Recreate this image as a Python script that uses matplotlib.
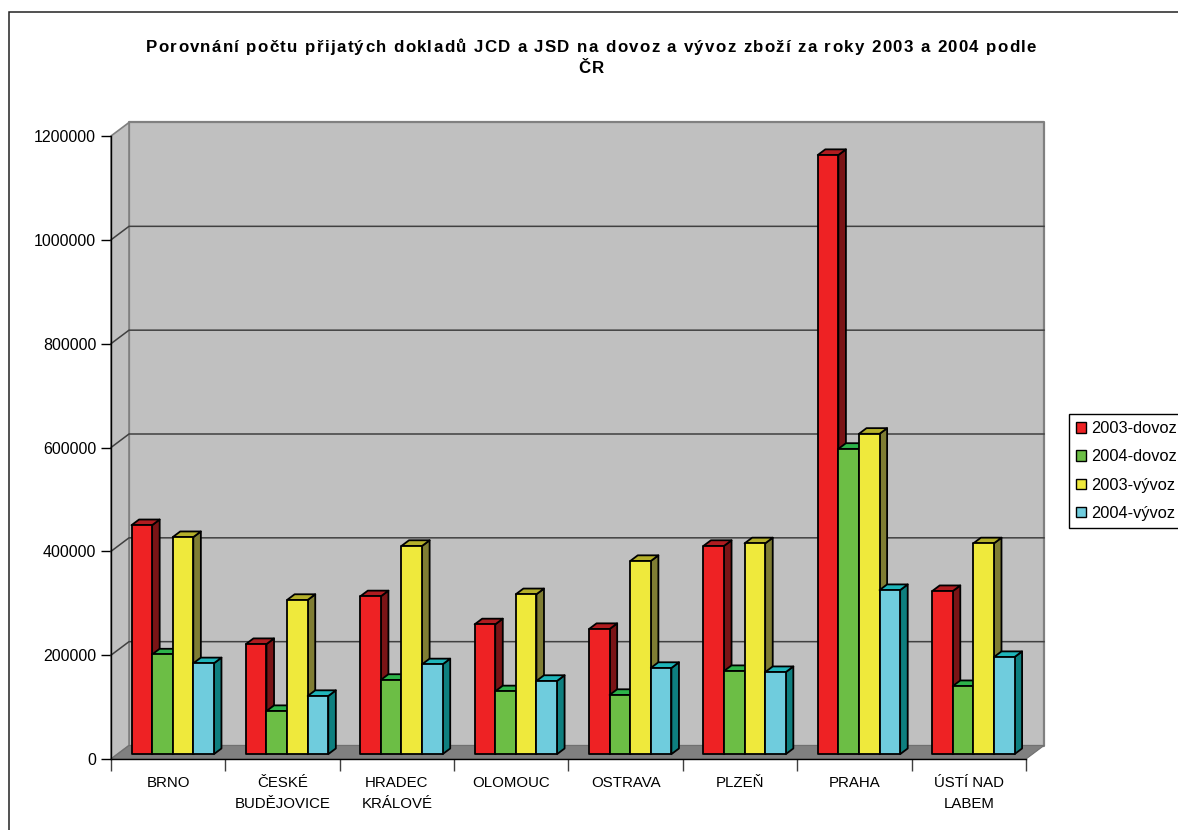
import matplotlib
matplotlib.use("Agg")
import matplotlib.pyplot as plt
from matplotlib.patches import Polygon, Rectangle, Patch
from matplotlib.text import Text
from matplotlib.transforms import IdentityTransform

plt.rcParams['font.family'] = ['Liberation Sans', 'DejaVu Sans']

TITLE = "Porovnání počtu přijatých dokladů JCD a JSD na dovoz a vývoz zboží za roky 2003 a 2004 podle\nČR"
categories = ["BRNO", "ČESKÉ\nBUDĚJOVICE", "HRADEC\nKRÁLOVÉ", "OLOMOUC", "OSTRAVA", "PLZEŇ", "PRAHA", "ÚSTÍ NAD\nLABEM"]
dovoz_2003 = [441000, 212000, 304000, 250000, 241000, 401000, 1154000, 314000]
dovoz_2004 = [192000, 83000, 143000, 121000, 114000, 160000, 588000, 131000]
vyvoz_2003 = [418000, 297000, 401000, 308000, 372000, 406000, 617000, 406000]
vyvoz_2004 = [175000, 112000, 173000, 141000, 166000, 158000, 316000, 187000]
series_names = ["2003-dovoz", "2004-dovoz", "2003-vývoz", "2004-vývoz"]
yticks = [0, 200000, 400000, 600000, 800000, 1000000, 1200000]

W, H = 1178, 830
fig = plt.figure(figsize=(W / 100, H / 100), dpi=100, facecolor="white")
L, R, T, B = 111, 1026, 136, 759
ax = fig.add_axes([L / W, 1 - B / H, (R - L) / W, (B - T) / H])
ax.set_xlim(0, len(categories))
ax.set_ylim(0, yticks[-1])
ax.patch.set_visible(False)

px_x = len(categories) / (R - L)
px_y = yticks[-1] / (B - T)
DX, DV = 18 * px_x, 13.5 * px_y   # full depth of the 3D box


def P(x, v, d=0.0):
    return (x + d * DX, v + d * DV)


def poly(pts, fc, ec="none", lw=0.0, z=1):
    ax.add_patch(Polygon(pts, closed=True, facecolor=fc, edgecolor=ec, linewidth=lw,
                         clip_on=False, zorder=z, joinstyle="round"))


class TrackedText(Text):
    """A text artist drawn with extra space between the letters of each line."""

    def __init__(self, *args, tracking=0.0, line_px=21.0, **kwargs):
        super().__init__(*args, **kwargs)
        self._tracking = tracking
        self._line_px = line_px

    def draw(self, renderer):
        cx, top_y = self.get_transform().transform(self.get_position())
        prop = self.get_fontproperties()
        for row, line in enumerate(self.get_text().split("\n")):
            def width(s):
                return renderer.get_text_width_height_descent(s, prop, False)[0] if s else 0.0
            total = width(line) + self._tracking * (len(line) - 1)
            for k, ch in enumerate(line):
                x = cx - total / 2 + width(line[:k]) + self._tracking * k
                Text(x, top_y - row * self._line_px, ch, fontproperties=prop, color=self.get_color(),
                     ha="left", va="baseline", transform=IdentityTransform(),
                     figure=self.get_figure()).draw(renderer)


n = len(categories)
top = yticks[-1]
GRAY = "#808080"
# walls and floor
poly([P(0, 0, 1), P(n, 0, 1), P(n, top, 1), P(0, top, 1)], "#C0C0C0", GRAY, 1.6, 1)
poly([P(0, 0), P(0, 0, 1), P(0, top, 1), P(0, top)], "#C0C0C0", GRAY, 1.2, 1)
poly([P(0, 0), P(n, 0), P(n, 0, 1), P(0, 0, 1)], "#808080", "#707070", 0.8, 1.5)
# gridlines
for v in yticks[1:-1]:
    ax.plot(*zip(P(0, v), P(0, v, 1), P(n, v, 1)), color="#404040", lw=1.1,
            clip_on=False, zorder=2, solid_joinstyle="miter")

# bars
series = [dovoz_2003, dovoz_2004, vyvoz_2003, vyvoz_2004]
front = ["#EE2224", "#6CBE45", "#EFE93C", "#6FCCDD"]
tops = ["#B01C20", "#2DB34A", "#B5B02A", "#1FB5BA"]
sides = ["#7A1416", "#157A35", "#7F7D33", "#0E7F7F"]
bar_w = 20.6 * px_x
d0, d1 = 0.36, 0.78
start = (20.5 - d0 * 18) * px_x
z = 3
for i in range(n):
    for s, vals in enumerate(series):
        v = vals[i]
        x0 = i + start + s * bar_w
        x1 = x0 + bar_w
        kw = dict(ec="black", lw=1.3, z=z)
        poly([P(x1, 0, d0), P(x1, 0, d1), P(x1, v, d1), P(x1, v, d0)], sides[s], **kw)
        poly([P(x0, v, d0), P(x1, v, d0), P(x1, v, d1), P(x0, v, d1)], tops[s], **kw)
        poly([P(x0, 0, d0), P(x1, 0, d0), P(x1, v, d0), P(x0, v, d0)], front[s], **kw)
        z += 0.01

# axes
for name in ("top", "right"):
    ax.spines[name].set_visible(False)
for name in ("left", "bottom"):
    ax.spines[name].set_linewidth(1.0)
    ax.spines[name].set_zorder(20)
ax.set_yticks(yticks)
ax.set_yticklabels([str(v) for v in yticks], fontsize=11.5)
ax.tick_params(axis="y", length=7.2, width=1.0, pad=3.5)
ax.set_xticks(range(n + 1))
ax.set_xticklabels([])
ax.tick_params(axis="x", which="major", length=8.6, width=1.0, color="#404040")
ax.set_xticks([i + 0.5 for i in range(n)], minor=True)
ax.set_xticklabels(categories, minor=True, fontsize=10.8, linespacing=1.6)
ax.tick_params(axis="x", which="minor", length=0, pad=12.5)

# title
fig.add_artist(TrackedText(591 / W, 1 - 52 / H, TITLE, transform=fig.transFigure,
                           fontsize=12.2, fontweight="bold", tracking=1.33, line_px=21.0,
                           ha="center", va="top"))

# chart-area border (runs off the image on the right and bottom)
fig.add_artist(Rectangle((8.5 / W, -0.1), 1.2, 1.1 - 12.5 / H, transform=fig.transFigure,
                         facecolor="none", edgecolor="#222222", linewidth=1.1))

# legend
handles = [Patch(facecolor=c, edgecolor="black", linewidth=1.0) for c in front]
leg = ax.legend(handles, series_names, loc="upper left",
                bbox_to_anchor=(1069 / W, 1 - 414 / H), bbox_transform=fig.transFigure,
                fontsize=11.8, frameon=True, fancybox=False, edgecolor="black",
                framealpha=1, borderpad=0.43, labelspacing=0.81, handlelength=0.61,
                handleheight=0.61, handletextpad=0.3, borderaxespad=0)
leg.get_frame().set_linewidth(1.0)
leg.set_zorder(30)

fig.savefig("out.png", dpi=100)
